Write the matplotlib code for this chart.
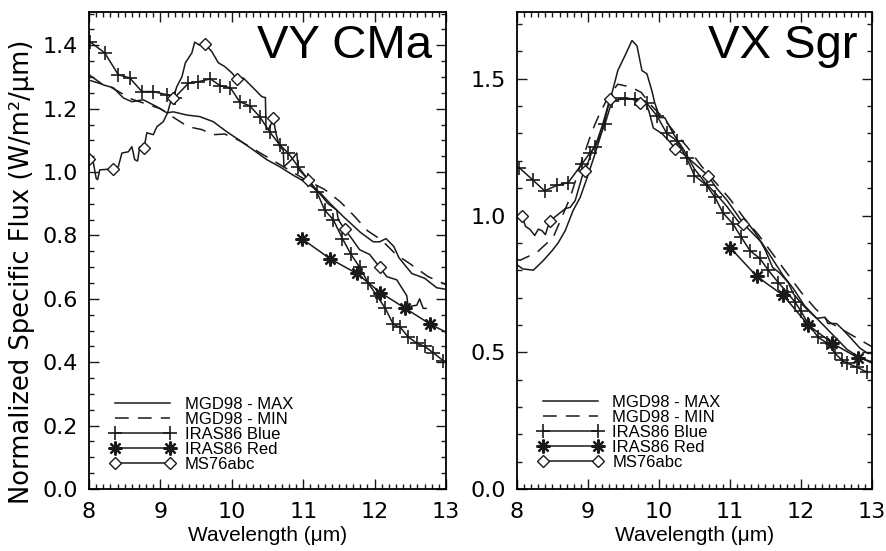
import numpy as np
import matplotlib
matplotlib.use('Agg')
import matplotlib.pyplot as plt
from matplotlib.ticker import MultipleLocator, FormatStrFormatter

plt.rcParams['font.family'] = ['DejaVu Sans']
ARIAL = ['Liberation Sans', 'DejaVu Sans']

# ---------------- VY CMa ----------------
vy_max_wl = [8.0, 8.2, 8.34, 8.48, 8.6, 8.76, 8.95, 9.09, 9.18, 9.37, 9.55, 9.74,
             9.93, 10.11, 10.3, 10.49, 10.67, 10.86, 11.05, 11.24, 11.38, 11.56,
             11.8, 11.98, 12.07, 12.16, 12.27, 12.34, 12.52, 12.7, 12.87, 13.0]
vy_max = [1.307, 1.275, 1.266, 1.234, 1.222, 1.228, 1.206, 1.187, 1.19, 1.18, 1.175, 1.159,
          1.127, 1.10, 1.07, 1.039, 1.017, 0.99, 0.966, 0.934, 0.90, 0.86,
          0.81, 0.78, 0.78, 0.79, 0.765, 0.73, 0.68, 0.665, 0.635, 0.63]

vy_min_wl = [8.0, 8.29, 8.6, 9.0, 9.2, 9.39, 9.58, 9.74, 9.9, 10.1, 10.4, 10.7, 11.0,
             11.3, 11.52, 11.72, 11.9, 12.1, 12.3, 12.5, 12.75, 13.0]
vy_min = [1.29, 1.27, 1.23, 1.20, 1.17, 1.143, 1.134, 1.118, 1.12, 1.10, 1.06, 1.02, 0.98,
          0.945, 0.906, 0.86, 0.815, 0.785, 0.74, 0.71, 0.67, 0.645]

vy_blue_wl = [8.02, 8.22, 8.41, 8.57, 8.74, 8.9, 9.09, 9.2, 9.39, 9.53, 9.7, 9.84, 9.98,
              10.11, 10.25, 10.39, 10.53, 10.67, 10.79, 10.93, 11.07, 11.19, 11.3, 11.42,
              11.55, 11.67, 11.79, 11.91, 12.03, 12.15, 12.26, 12.36, 12.47, 12.59, 12.7,
              12.82, 12.96]
vy_blue = [1.41, 1.376, 1.307, 1.297, 1.254, 1.254, 1.244, 1.235, 1.28, 1.285, 1.294, 1.272,
           1.266, 1.222, 1.209, 1.175, 1.127, 1.086, 1.06, 1.017, 0.976, 0.938, 0.88, 0.85,
           0.79, 0.74, 0.70, 0.65, 0.61, 0.57, 0.52, 0.51, 0.48, 0.46, 0.45, 0.43, 0.405]

vy_red_wl = [10.98, 11.38, 11.75, 12.08, 12.43, 12.78, 13.13]
vy_red = [0.79, 0.726, 0.68, 0.62, 0.57, 0.52, 0.48]

vy_ms_wl = [8.0, 8.06, 8.1, 8.12, 8.15, 8.34, 8.41, 8.46, 8.55, 8.6, 8.64, 8.68, 8.71,
            8.77, 8.81, 8.9, 8.95, 9.04, 9.1, 9.15, 9.18, 9.23, 9.3, 9.35, 9.44, 9.48,
            9.55, 9.62, 9.72, 9.81, 9.9, 10.0, 10.07, 10.16, 10.28, 10.42, 10.47, 10.48,
            10.53, 10.58, 10.62, 10.67, 10.72, 10.73, 10.84, 10.91, 10.93, 11.07, 11.2,
            11.35, 11.47, 11.49, 11.52, 11.58, 11.68, 11.79, 11.93, 12.07, 12.17, 12.31,
            12.45, 12.47, 12.59, 12.63, 12.68, 12.72]
vy_ms = [1.04, 1.03, 0.98, 0.976, 1.007, 1.01, 1.017, 1.06, 1.064, 1.08, 1.039, 1.035, 1.08,
         1.077, 1.124, 1.118, 1.143, 1.159, 1.187, 1.228, 1.234, 1.27, 1.30, 1.345, 1.376, 1.41,
         1.40, 1.405, 1.38, 1.345, 1.333, 1.313, 1.294, 1.297, 1.27, 1.238, 1.235, 1.134,
         1.14, 1.17, 1.12, 1.08, 1.07, 1.017, 1.04, 1.06, 1.01, 0.976, 0.94,
         0.90, 0.88, 0.85, 0.84, 0.82, 0.79, 0.755, 0.74, 0.70, 0.67, 0.66,
         0.61, 0.575, 0.58, 0.60, 0.57, 0.57]
vy_ms_diamonds = [8.0, 8.34, 8.77, 9.18, 9.62, 10.07, 10.58, 11.07, 11.58, 12.07]

# ---------------- VX Sgr ----------------
vx_max_wl = [8.0, 8.08, 8.23, 8.37, 8.49, 8.58, 8.68, 8.79, 8.89, 8.99, 9.1, 9.2, 9.28,
             9.35, 9.42, 9.52, 9.62, 9.69, 9.76, 9.83, 9.9, 9.94, 10.01, 10.08, 10.2,
             10.35, 10.5, 10.65, 10.8, 10.95, 11.14, 11.28, 11.4, 11.5, 11.6, 11.7, 11.82,
             11.89, 12.0, 12.1, 12.22, 12.34, 12.38, 12.5, 12.6, 12.69, 12.83, 12.94, 13.0]
vx_max = [0.82, 0.805, 0.80, 0.835, 0.87, 0.90, 0.945, 1.018, 1.066, 1.14, 1.226, 1.31, 1.394,
          1.46, 1.53, 1.584, 1.64, 1.62, 1.53, 1.518, 1.456, 1.412, 1.358, 1.358, 1.30,
          1.24, 1.17, 1.12, 1.08, 1.035, 0.97, 0.963, 0.92, 0.872, 0.81, 0.79, 0.755,
          0.715, 0.68, 0.653, 0.624, 0.628, 0.605, 0.605, 0.58, 0.555, 0.515, 0.496, 0.496]

vx_min_wl = [8.0, 8.04, 8.28, 8.51, 8.75, 8.9, 9.06, 9.17, 9.3, 9.42, 9.6, 9.75, 9.9,
             10.05, 10.2, 10.4, 10.6, 10.8, 11.0, 11.2, 11.4, 11.6, 11.8, 12.0, 12.2,
             12.4, 12.6, 12.8, 13.0]
vx_min = [0.84, 0.836, 0.865, 0.92, 1.066, 1.19, 1.31, 1.376, 1.44, 1.48, 1.47, 1.45, 1.40,
          1.36, 1.31, 1.25, 1.18, 1.12, 1.06, 0.99, 0.93, 0.86, 0.79, 0.72, 0.66,
          0.61, 0.58, 0.55, 0.52]

vx_blue_wl = [8.03, 8.23, 8.39, 8.56, 8.72, 8.92, 9.03, 9.1, 9.24, 9.34, 9.52, 9.66, 9.83,
              9.97, 10.11, 10.25, 10.39, 10.5, 10.67, 10.79, 10.9, 11.04, 11.16, 11.28,
              11.42, 11.54, 11.68, 11.8, 11.92, 12.0, 12.1, 12.24, 12.37, 12.48, 12.58,
              12.65, 12.79, 12.93]
vx_blue = [1.175, 1.128, 1.09, 1.11, 1.12, 1.19, 1.23, 1.25, 1.335, 1.42, 1.427, 1.427, 1.41,
           1.365, 1.30, 1.274, 1.21, 1.146, 1.11, 1.066, 1.01, 0.97, 0.92, 0.872,
           0.843, 0.80, 0.755, 0.72, 0.682, 0.65, 0.605, 0.555, 0.533, 0.496, 0.47,
           0.46, 0.445, 0.427]

vx_red_wl = [11.0, 11.38, 11.75, 12.1, 12.44, 12.8, 13.15]
vx_red = [0.883, 0.777, 0.708, 0.60, 0.533, 0.48, 0.455]

vx_ms_wl = [8.0, 8.07, 8.12, 8.18, 8.25, 8.3, 8.35, 8.4, 8.46, 8.56, 8.68, 8.75, 8.82,
            8.93, 8.96, 9.06, 9.13, 9.21, 9.31, 9.4, 9.55, 9.69, 9.73, 9.8, 9.86, 9.92,
            10.04, 10.15, 10.23, 10.34, 10.5, 10.69, 10.81, 10.96, 11.19, 11.3, 11.45,
            11.6, 11.75, 11.9, 12.05, 12.2, 12.35, 12.5, 12.65, 12.8, 13.0]
vx_ms = [1.0, 1.0, 0.96, 0.95, 0.927, 0.95, 0.945, 0.93, 0.98, 1.0, 1.025, 1.03, 1.055,
         1.153, 1.164, 1.237, 1.274, 1.336, 1.427, 1.43, 1.43, 1.42, 1.41, 1.42, 1.38, 1.32,
         1.30, 1.27, 1.244, 1.226, 1.19, 1.146, 1.10, 1.055, 0.97, 0.94, 0.90,
         0.84, 0.78, 0.73, 0.67, 0.63, 0.59, 0.55, 0.51, 0.485, 0.46]
vx_ms_diamonds = [8.07, 8.46, 8.96, 9.31, 9.73, 10.23, 10.69, 11.19]

labels = ['MGD98 - MAX', 'MGD98 - MIN', 'IRAS86 Blue', 'IRAS86 Red', 'MS76abc']

col = '#1a1a1a'
lw = 1.1


def panel(ax, d, name, ylim, ymaj, ymin, leg_xy):
    (mx, my), (nx, ny), (bx, by), (rx, ry), (sx, sy, sd) = d
    ax.plot(mx, my, '-', color=col, lw=lw, label=labels[0])
    ax.plot(nx, ny, color=col, lw=lw, ls=(0, (9, 6)), label=labels[1])
    ax.plot(bx, by, '-', color=col, lw=lw, marker='+', ms=10, mew=1.2, label=labels[2])
    ax.plot(rx, ry, '-', color=col, lw=lw, marker=(8, 2, 0), ms=10, mew=1.6, label=labels[3])
    idx = [sx.index(w) for w in sd]
    ax.plot(sx, sy, '-', color=col, lw=lw, marker='D', ms=6, mfc='white', mew=1.0,
            markevery=idx, label=labels[4])
    ax.set_xlim(8, 13)
    ax.set_ylim(*ylim)
    ax.xaxis.set_major_locator(MultipleLocator(1))
    ax.xaxis.set_minor_locator(MultipleLocator(0.1))
    ax.yaxis.set_major_locator(MultipleLocator(ymaj))
    ax.yaxis.set_minor_locator(MultipleLocator(ymin))
    ax.yaxis.set_major_formatter(FormatStrFormatter('%.1f'))
    ax.tick_params(which='both', direction='in', top=True, right=True, width=1.0,
                   labelsize=16, color=col)
    ax.tick_params(which='major', length=7)
    ax.tick_params(which='minor', length=3.6)
    ax.tick_params(axis='x', which='major', pad=9)
    ax.tick_params(axis='y', which='major', pad=8)
    for s in ax.spines.values():
        s.set_linewidth(1.3)
    ax.set_xlabel('Wavelength (μm)', fontsize=15, labelpad=3, family=ARIAL)
    ax.text(0.96, 0.975, name, transform=ax.transAxes, ha='right', va='top',
            fontsize=34, family=ARIAL)
    ax.legend(loc='lower left', bbox_to_anchor=leg_xy, frameon=False,
              prop={'family': ARIAL, 'size': 12},
              handlelength=3.9, handletextpad=0.55, labelspacing=0.0, borderpad=0,
              borderaxespad=0, numpoints=2)


fig = plt.figure(figsize=(8.86, 5.51), dpi=100)
ax1 = fig.add_axes([0.1005, 0.1125, 0.4029, 0.8657])
ax2 = fig.add_axes([0.5835, 0.1125, 0.4007, 0.8657])

panel(ax1, [(vy_max_wl, vy_max), (vy_min_wl, vy_min), (vy_blue_wl, vy_blue),
            (vy_red_wl, vy_red), (vy_ms_wl, vy_ms, vy_ms_diamonds)],
      'VY CMa', (0, 1.505), 0.2, 0.05, (0.06, 0.035))
panel(ax2, [(vx_max_wl, vx_max), (vx_min_wl, vx_min), (vx_blue_wl, vx_blue),
            (vx_red_wl, vx_red), (vx_ms_wl, vx_ms, vx_ms_diamonds)],
      'VX Sgr', (0, 1.744), 0.5, 0.1, (0.06, 0.04))
ax1.set_ylabel('Normalized Specific Flux (W/m²/μm)', fontsize=18.5)
ax1.yaxis.set_label_coords(-0.15, 0.455)

fig.savefig('out.png', dpi=100)
